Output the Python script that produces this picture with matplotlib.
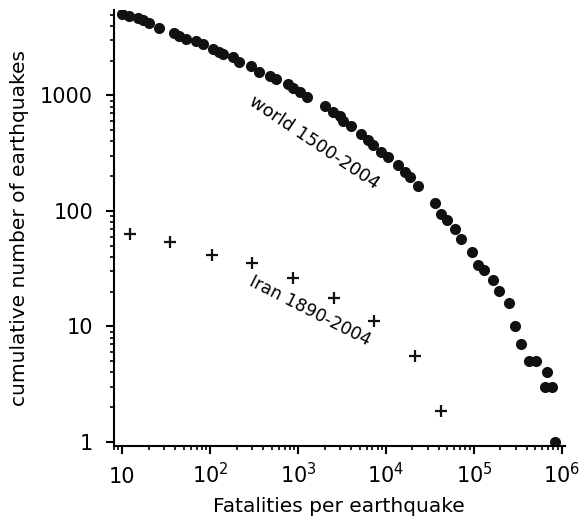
import matplotlib
matplotlib.use("Agg")
import matplotlib.pyplot as plt
from matplotlib.ticker import FixedLocator, FixedFormatter, LogLocator, NullFormatter

plt.rcParams['font.family'] = ['DejaVu Sans']

# world 1500-2004: fatalities per earthquake vs cumulative count
world_fatalities = [10, 12, 14.9, 17, 20.3, 26.4, 39.1, 44.6, 53.1, 69, 83.7, 106.7, 125, 141,
                    180, 215, 292, 363, 472, 563, 764, 871, 1038, 1247, 2000, 2485, 2963, 3230,
                    4027, 5236, 6225, 7100, 8840, 10500, 13700, 16300, 18600, 23100, 35800,
                    42700, 49400, 60400, 72100, 96200, 111000, 129000, 163000, 193000, 251000,
                    292000, 339000, 425000, 515000, 681000, 652000, 764000, 832000]
world_count = [5130, 4910, 4690, 4500, 4210, 3880, 3475, 3295, 3085, 2943, 2792, 2528, 2361, 2279,
               2138, 1963, 1813, 1587, 1486, 1391, 1259, 1163, 1066, 969, 818, 716, 664, 607,
               549, 466, 408, 369, 323, 292, 248, 217, 196, 166, 116,
               94.8, 84.1, 70.3, 57.6, 44.2, 33.9, 30.7, 25.1, 20.3, 15.8,
               10, 7, 5, 5, 4, 3, 3, 1]

# Iran 1890-2004
iran_fatalities = [12.2, 35.2, 105, 300, 871, 2530, 7280, 21200, 42700]
iran_count = [63.6, 53.9, 41.3, 35.5, 26, 17.7, 11.2, 5.54, 1.86]

fig = plt.figure(figsize=(5.84, 5.19), dpi=100)
ax = fig.add_axes([0.195, 0.1407, 0.772, 0.84])

ax.plot(world_fatalities, world_count, marker="o", linestyle="none", color="#111111",
        markersize=8, markeredgewidth=0)
ax.plot(iran_fatalities, iran_count, marker="+", linestyle="none", color="#111111",
        markersize=8, markeredgewidth=1.6)

ax.set_xscale("log")
ax.set_yscale("log")
ax.set_xlim(8.0, 1.08e6)
ax.set_ylim(0.92, 5500)

xt = [10, 1e2, 1e3, 1e4, 1e5, 1e6]
ax.xaxis.set_major_locator(FixedLocator(xt))
ax.xaxis.set_major_formatter(FixedFormatter(["10", "$10^2$", "$10^3$", "$10^4$", "$10^5$", "$10^6$"]))
ax.xaxis.set_minor_locator(LogLocator(base=10, subs=range(2, 10), numticks=20))
ax.xaxis.set_minor_formatter(NullFormatter())

yt = [1, 10, 100, 1000]
ax.yaxis.set_major_locator(FixedLocator(yt))
ax.yaxis.set_major_formatter(FixedFormatter(["1", "10", "100", "1000"]))
ax.yaxis.set_minor_locator(LogLocator(base=10, subs=range(2, 10), numticks=20))
ax.yaxis.set_minor_formatter(NullFormatter())

for s in ["top", "right"]:
    ax.spines[s].set_visible(False)
for s in ["left", "bottom"]:
    ax.spines[s].set_linewidth(1.5)

ax.tick_params(which="major", direction="out", length=6, width=1.5, labelsize=15)
ax.tick_params(which="minor", direction="out", length=3, width=1.2)
ax.tick_params(axis="x", which="major", pad=21)
ax.tick_params(axis="y", which="major", pad=9)
for lab in ax.get_xticklabels():
    lab.set_verticalalignment("baseline")

ax.set_xlabel("Fatalities per earthquake", fontsize=14.5, labelpad=7)
ax.set_ylabel("cumulative number of earthquakes", fontsize=14.5, labelpad=8)

ax.text(1540, 392, "world 1500-2004", rotation=-34, fontsize=13,
        ha="center", va="center", rotation_mode="anchor")
ax.text(1350, 13.6, "Iran 1890-2004", rotation=-27, fontsize=12.5,
        ha="center", va="center", rotation_mode="anchor")

plt.savefig("out.png", dpi=100)
